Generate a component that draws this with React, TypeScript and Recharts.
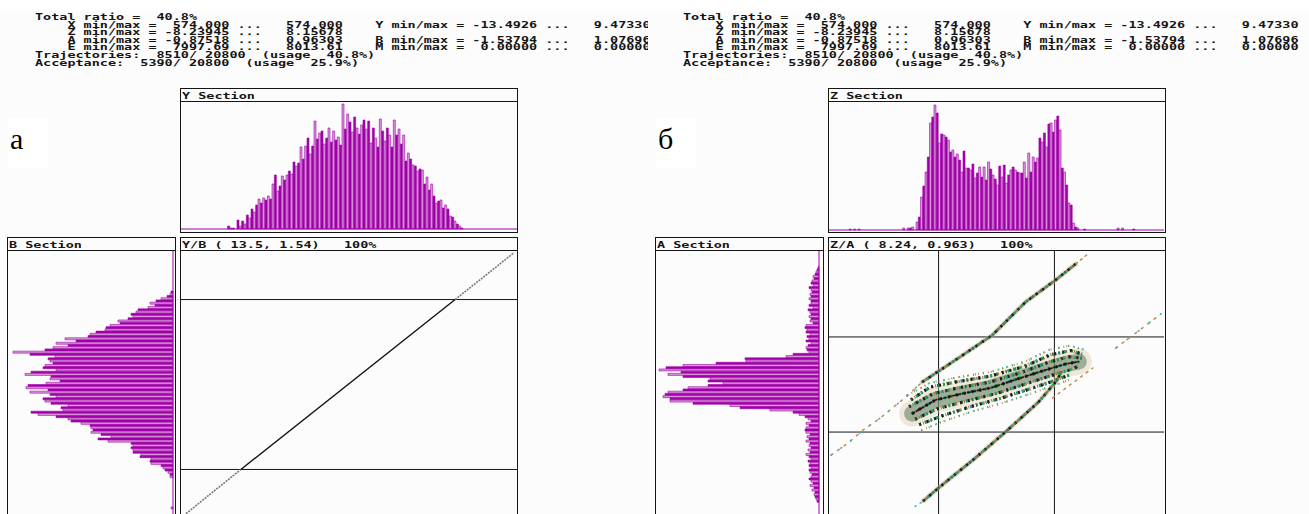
import React from 'react';
import {
  BarChart,
  Bar,
  Cell,
  XAxis,
  YAxis,
  ReferenceLine,
  ComposedChart,
  Line,
} from 'recharts';

// header printout (same text in both figures)
const HEADER_LINES = [
  'Total ratio =  40.8%',
  '    X min/max =  574.000 ...   574.000    Y min/max = -13.4926 ...   9.47330',
  '    Z min/max = -8.23945 ...   8.15678',
  '    A min/max = -0.87518 ...   0.96303    B min/max = -1.53794 ...   1.07696',
  '    E min/max =  7997.69 ...   8013.61    M min/max =  0.00000 ...   0.00000',
  'Trajectories:  8510/ 20800  (usage  40.8%)',
  'Acceptance:  5390/ 20800  (usage  25.9%)',
];

// Y section histogram (figure а), bins 0..143, counts start at bin 20
const Y_BINS = 144;
const Y_FIRST = 20;
const ySection = [
  3, 1, 1, 0, 9, 3, 8, 5, 14, 11,
  20, 17, 24, 30, 26, 31, 29, 33, 30, 45,
  54, 38, 43, 53, 49, 54, 58, 55, 67, 63,
  66, 82, 70, 83, 91, 75, 83, 108, 90, 96,
  98, 85, 91, 101, 87, 98, 89, 92, 84, 125,
  100, 115, 107, 97, 112, 101, 95, 104, 109, 100,
  108, 86, 101, 91, 82, 110, 98, 88, 101, 94,
  82, 109, 94, 100, 85, 94, 68, 76, 70, 64,
  63, 58, 60, 59, 45, 52, 39, 45, 33, 26,
  28, 29, 21, 24, 20, 13, 12, 8, 5, 3,
  1,
];

// Z section histogram (figure б)
const Z_BINS = 150;
const Z_FIRST = 39;
const zSection = [
  8, 13, 33, 44, 58, 73, 107, 113, 125, 117,
  87, 96, 95, 93, 90, 78, 80, 73, 76, 70,
  58, 79, 62, 62, 60, 66, 52, 57, 63, 53,
  63, 50, 68, 61, 55, 51, 45, 64, 53, 65,
  47, 55, 60, 63, 60, 58, 57, 57, 68, 52,
  77, 58, 73, 68, 72, 92, 88, 97, 83, 106,
  107, 98, 110, 114, 100, 62, 58, 45, 27, 25,
  7, 3, 2,
];
const zSparse = [
  { bin: 9, count: 1 }, { bin: 11, count: 1 }, { bin: 13, count: 1 },
  { bin: 33, count: 2 }, { bin: 35, count: 2 }, { bin: 36, count: 2 }, { bin: 37, count: 3 },
  { bin: 114, count: 1 }, { bin: 129, count: 2 }, { bin: 131, count: 2 }, { bin: 136, count: 1 },
];

// B section (figure а, sideways), rows top to bottom
const SIDE_ROWS = 120;
const B_FIRST = 18;
const bSection = [
  2, 3, 6, 12, 17, 23, 18, 25, 35, 37,
  42, 40, 45, 55, 53, 63, 67, 68, 77, 83,
  85, 108, 97, 117, 105, 120, 128, 160, 143, 118,
  125, 123, 120, 128, 130, 117, 142, 148, 122, 123,
  113, 127, 145, 147, 125, 143, 123, 117, 130, 128,
  122, 105, 112, 110, 142, 135, 117, 105, 102, 92,
  83, 82, 80, 82, 72, 62, 75, 65, 42, 40,
  42, 40, 40, 32, 33, 22, 23, 22, 12, 10,
  8, 5, 3, 3,
];
const bSparse = [{ bin: 115, count: 2 }];

// A section (figure б, sideways)
const A_FIRST = 7;
const aSection = [
  1, 2, 3, 4, 6, 5, 7, 8, 6, 10,
  8, 7, 9, 8, 10, 8, 8, 10, 6, 11,
  9, 8, 10, 8, 9, 6, 13, 14, 12, 13,
  9, 12, 10, 13, 8, 11, 13, 12, 10, 26,
  33, 74, 73, 103, 136, 153, 160, 138, 151, 136,
  109, 111, 96, 111, 131, 136, 151, 154, 156, 149,
  149, 126, 89, 79, 49, 26, 20, 14, 11, 8,
  13, 10, 13, 14, 13, 9, 12, 10, 13, 9,
  10, 8, 11, 9, 13, 10, 8, 11, 9, 10,
  8, 10, 9, 7, 8, 10, 8, 6, 9, 5,
  7, 4, 5, 4, 3, 2,
];

// Y/B phase plot
const ybLimits = [-0.98, 0.98];
const ybCore = [{ y: -8.69, b: -0.98 }, { y: 8.53, b: 0.98 }];
const ybTailLow = [{ y: -13.1, b: -1.49 }, { y: -8.69, b: -0.98 }];
const ybTailHigh = [{ y: 8.53, b: 0.98 }, { y: 13.26, b: 1.52 }];

// Z/A phase plot
const zaLimitsZ = [-2.85, 2.85];
const zaLimitsA = [-0.343, 0.343];
const zaUpperTail = [
  { z: -8.14, a: -0.509 }, { z: -7.3, a: -0.422 }, { z: -6.56, a: -0.328 },
  { z: -5.72, a: -0.242 }, { z: -4.64, a: -0.112 }, { z: -3.65, a: 0.018 },
];
const zaUpperBranch = [
  { z: -3.65, a: 0.018 }, { z: -1.87, a: 0.191 }, { z: -0.2, a: 0.357 },
  { z: 1.43, a: 0.595 }, { z: 2.91, a: 0.754 }, { z: 3.9, a: 0.87 },
];
const zaUpperEnd = [{ z: 3.9, a: 0.87 }, { z: 4.49, a: 0.941 }];
const zaLowerBranch = [
  { z: -3.6, a: -0.84 }, { z: -2.86, a: -0.747 }, { z: -1.04, a: -0.53 },
  { z: 0.44, a: -0.343 }, { z: 2.07, a: -0.126 }, { z: 2.91, a: 0.018 }, { z: 3.2, a: 0.09 },
];
const zaLowerEnd = [{ z: -4.0, a: -0.88 }, { z: -3.6, a: -0.84 }];
const zaRightTailInner = [{ z: 2.76, a: -0.097 }, { z: 4.74, a: 0.119 }];
const zaRightTailOuter = [{ z: 5.87, a: 0.263 }, { z: 8.09, a: 0.509 }];
const zaBlobOuterTop = [
  { z: -4.4, a: -0.08 }, { z: -3.3, a: 0.01 }, { z: -2.0, a: 0.05 }, { z: -0.3, a: 0.09 },
  { z: 1.4, a: 0.165 }, { z: 2.6, a: 0.25 }, { z: 3.6, a: 0.28 }, { z: 4.35, a: 0.25 },
];
const zaBlobTop = [
  { z: -4.2, a: -0.11 }, { z: -3.26, a: -0.018 }, { z: -2.02, a: 0.018 }, { z: -0.3, a: 0.061 },
  { z: 1.43, a: 0.133 }, { z: 2.66, a: 0.215 }, { z: 3.65, a: 0.245 }, { z: 4.2, a: 0.22 },
];
const zaBlobUpperMid = [
  { z: -4.3, a: -0.16 }, { z: -3.1, a: -0.065 }, { z: -1.9, a: -0.025 }, { z: -0.3, a: 0.018 },
  { z: 1.3, a: 0.09 }, { z: 2.55, a: 0.16 }, { z: 3.55, a: 0.2 }, { z: 4.2, a: 0.19 },
];
const zaBlobCenter = [
  { z: -4.15, a: -0.21 }, { z: -3.01, a: -0.112 }, { z: -1.78, a: -0.069 }, { z: -0.3, a: -0.025 },
  { z: 1.18, a: 0.047 }, { z: 2.42, a: 0.105 }, { z: 3.4, a: 0.148 }, { z: 4.05, a: 0.165 },
];
const zaBlobLowerMid = [
  { z: -4.0, a: -0.25 }, { z: -2.9, a: -0.175 }, { z: -1.5, a: -0.12 }, { z: 0, a: -0.065 },
  { z: 1.45, a: 0.005 }, { z: 2.7, a: 0.065 }, { z: 3.6, a: 0.105 }, { z: 4.0, a: 0.13 },
];
const zaBlobBottom = [
  { z: -3.8, a: -0.29 }, { z: -2.76, a: -0.23 }, { z: -1.28, a: -0.16 }, { z: 0.2, a: -0.1 },
  { z: 1.68, a: -0.03 }, { z: 2.91, a: 0.03 }, { z: 3.6, a: 0.07 },
];
const zaBlobOuterBottom = [
  { z: -3.7, a: -0.33 }, { z: -2.7, a: -0.27 }, { z: -1.2, a: -0.195 }, { z: 0.25, a: -0.135 },
  { z: 1.7, a: -0.065 }, { z: 2.95, a: 0.0 }, { z: 3.7, a: 0.04 },
];

const DARK = '#a000a8';
const LIGHT = '#d99ad9';
const INK = '#151515';
const PITCH = 8.1;
const DX = 648;

const SPECKLE = [
  { color: '#1f9a3a', dash: '2 4' },
  { color: '#b5702a', dash: '1 3' },
  { color: '#0fa3a3', dash: '1 5' },
  { color: '#a41aa4', dash: '1 7' },
  { color: '#1c1c1c', dash: '2 6' },
  { color: '#2d6a2a', dash: '1 9' },
];

const FRINGE = [
  { color: '#c8884a', dash: '1 4' },
  { color: '#3cb4b4', dash: '1 7' },
  { color: '#5aa85a', dash: '1 9' },
];

function buildBins(total: number, first: number, counts: number[], sparse: { bin: number; count: number }[] = []) {
  const rows = Array.from({ length: total }, (_, i) => ({ bin: i, count: 0 }));
  counts.forEach((c, i) => {
    if (first + i < total) rows[first + i].count = c;
  });
  sparse.forEach((s) => {
    rows[s.bin].count = s.count;
  });
  return rows;
}

function PixelText({ x, y, text }: { x: number; y: number; text: string }) {
  const body = text.trimStart();
  const lead = text.length - body.length;
  return (
    <text
      x={x + lead * PITCH}
      y={y}
      fontFamily="'DejaVu Sans Mono', monospace"
      fontSize={8.4}
      fontWeight="bold"
      fill={INK}
      textLength={body.length * PITCH}
      lengthAdjust="spacingAndGlyphs"
      style={{ whiteSpace: 'pre' }}
    >
      {body}
    </text>
  );
}

function Frame({ x, y, w, h, title }: { x: number; y: number; w: number; h: number; title: string }) {
  return (
    <g>
      <rect x={x + 0.5} y={y + 0.5} width={w} height={h} fill="#fcfcfc" stroke={INK} strokeWidth={1} />
      <line x1={x} x2={x + w + 1} y1={y + 13.5} y2={y + 13.5} stroke={INK} strokeWidth={1} />
      <PixelText x={x + 2} y={y + 10.5} text={title} />
    </g>
  );
}

function UpHist({ rows, left, top, width, height, max }: any) {
  return (
    <div style={{ position: 'absolute', left, top }}>
      <BarChart
        width={width}
        height={height}
        data={rows}
        margin={{ top: 0, right: 0, bottom: 1, left: 0 }}
        barCategoryGap={0}
        barGap={0}
      >
        <XAxis dataKey="bin" hide />
        <YAxis hide domain={[0, max]} />
        <ReferenceLine y={0} stroke={DARK} strokeWidth={1} />
        <Bar dataKey="count" stroke={DARK} strokeWidth={0.6} isAnimationActive={false}>
          {rows.map((r: any, i: number) => (
            <Cell key={i} fill={i % 2 ? LIGHT : DARK} />
          ))}
        </Bar>
      </BarChart>
    </div>
  );
}

function SideHist({ rows, left, top, width, height, max }: any) {
  return (
    <div style={{ position: 'absolute', left, top }}>
      <BarChart
        layout="vertical"
        width={width}
        height={height}
        data={rows}
        margin={{ top: 0, right: 1, bottom: 0, left: 0 }}
        barCategoryGap={0}
        barGap={0}
      >
        <XAxis type="number" hide domain={[0, max]} reversed />
        <YAxis type="category" dataKey="bin" hide />
        <ReferenceLine x={0} stroke={DARK} strokeWidth={1} />
        <Bar dataKey="count" stroke={DARK} strokeWidth={0.6} isAnimationActive={false}>
          {rows.map((r: any, i: number) => (
            <Cell key={i} fill={i % 2 ? LIGHT : DARK} />
          ))}
        </Bar>
      </BarChart>
    </div>
  );
}

function speckle(data: any[], width: number, tag: string, palette = SPECKLE) {
  return palette.map((s, i) => (
    <Line
      key={tag + i}
      data={data}
      dataKey="a"
      stroke={s.color}
      strokeWidth={width}
      strokeDasharray={s.dash}
      dot={false}
      activeDot={false}
      isAnimationActive={false}
    />
  ));
}

function plain(data: any[], stroke: string, width: number, opacity = 1, dash?: string) {
  return (
    <Line
      data={data}
      dataKey="a"
      stroke={stroke}
      strokeOpacity={opacity}
      strokeWidth={width}
      strokeDasharray={dash}
      strokeLinecap="round"
      strokeLinejoin="round"
      dot={false}
      activeDot={false}
      isAnimationActive={false}
    />
  );
}

function YBPlot() {
  return (
    <div style={{ position: 'absolute', left: 181, top: 251 }}>
      <ComposedChart width={336} height={267} margin={{ top: 0, right: 0, bottom: 0, left: 0 }}>
        <XAxis type="number" dataKey="y" domain={[-13.5, 13.5]} hide allowDataOverflow />
        <YAxis type="number" domain={[-1.54, 1.54]} hide allowDataOverflow />
        {ybLimits.map((v) => (
          <ReferenceLine key={v} y={v} stroke={INK} strokeWidth={1} />
        ))}
        <Line data={ybTailLow} dataKey="b" stroke="#7a7a7a" strokeWidth={1.6} strokeDasharray="2 1" dot={false} isAnimationActive={false} />
        <Line data={ybTailHigh} dataKey="b" stroke="#7a7a7a" strokeWidth={1.6} strokeDasharray="2 1" dot={false} isAnimationActive={false} />
        <Line data={ybCore} dataKey="b" stroke="#111" strokeWidth={1.4} dot={false} isAnimationActive={false} />
      </ComposedChart>
    </div>
  );
}

function ZAPlot() {
  return (
    <div style={{ position: 'absolute', left: 181 + DX, top: 251 }}>
      <ComposedChart width={335} height={267} margin={{ top: 0, right: 0, bottom: 0, left: 0 }}>
        <XAxis type="number" dataKey="z" domain={[-8.24, 8.24]} hide allowDataOverflow />
        <YAxis type="number" domain={[-0.963, 0.963]} hide allowDataOverflow />
        {zaLimitsZ.map((v) => (
          <ReferenceLine key={'z' + v} x={v} stroke={INK} strokeWidth={1} />
        ))}
        {zaLimitsA.map((v) => (
          <ReferenceLine key={'a' + v} y={v} stroke={INK} strokeWidth={1} />
        ))}
        {plain(zaBlobCenter, '#dcc7a4', 26, 0.4)}
        {plain(zaBlobCenter, '#5d7d63', 16, 0.55)}
        {speckle(zaBlobOuterTop, 2, 'ot', FRINGE)}
        {speckle(zaBlobOuterBottom, 2, 'ob', FRINGE)}
        {speckle(zaBlobTop, 3, 'bt')}
        {speckle(zaBlobUpperMid, 3, 'bu')}
        {speckle(zaBlobCenter, 3, 'bc')}
        {speckle(zaBlobLowerMid, 3, 'bl')}
        {speckle(zaBlobBottom, 3, 'bb')}
        {plain(zaUpperBranch, '#d0b088', 5, 0.4)}
        {plain(zaLowerBranch, '#d0b088', 5, 0.4)}
        {plain(zaUpperBranch, '#4a6a52', 2.5, 0.7)}
        {plain(zaLowerBranch, '#4a6a52', 2.5, 0.7)}
        {speckle(zaUpperBranch, 2.5, 'ub')}
        {speckle(zaLowerBranch, 2.5, 'lb')}
        {plain(zaBlobCenter, '#111', 1.5, 1, '3 2')}
        {plain(zaUpperEnd, '#c08a50', 1.5, 1, '2 4')}
        {plain(zaLowerEnd, '#40b0b0', 1.5, 1, '1 5')}
        {plain(zaUpperTail, '#c08a50', 1.5, 1, '2 6')}
        {plain(zaUpperTail, '#40b0b0', 1.5, 1, '1 11')}
        {plain(zaRightTailInner, '#c08a50', 1.5, 1, '2 5')}
        {plain(zaRightTailOuter, '#c08a50', 1.5, 1, '2 6')}
        {plain(zaRightTailOuter, '#40b0b0', 1.5, 1, '1 13')}
      </ComposedChart>
    </div>
  );
}

function Figure({ dx, side, top, label }: { dx: number; side: string; top: string; label: string }) {
  return (
    <g>
      <rect x={dx + 8} y={118} width={40} height={50} fill="#ffffff" />
      <text x={dx + 10} y={149} fontFamily="'Liberation Serif', serif" fontSize={30} fill="#000">
        {label}
      </text>
      <Frame x={dx + 180} y={88} w={337} h={144} title={`${top} Section`} />
      <Frame x={dx + 7} y={237} w={168} h={300} title={`${side} Section`} />
      <Frame
        x={dx + 180}
        y={237}
        w={337}
        h={300}
        title={top === 'Y' ? 'Y/B ( 13.5, 1.54)   100%' : 'Z/A ( 8.24, 0.963)   100%'}
      />
    </g>
  );
}

export default function App() {
  const yRows = buildBins(Y_BINS, Y_FIRST, ySection);
  const zRows = buildBins(Z_BINS, Z_FIRST, zSection, zSparse);
  const bRows = buildBins(SIDE_ROWS, B_FIRST, bSection, bSparse);
  const aRows = buildBins(SIDE_ROWS, A_FIRST, aSection);

  return (
    <div
      style={{
        position: 'absolute',
        left: 0,
        top: 0,
        width: 1309,
        height: 514,
        overflow: 'hidden',
        background: '#fcfcfc',
      }}
    >
      <svg width={1309} height={514} style={{ position: 'absolute', left: 0, top: 0 }}>
        <rect x={0} y={0} width={1309} height={11} fill="#ffffff" />
        <svg x={0} y={0} width={DX} height={80} overflow="hidden">
          {HEADER_LINES.map((t, i) => (
            <PixelText key={i} x={35} y={20 + i * 7.6} text={t} />
          ))}
        </svg>
        {HEADER_LINES.map((t, i) => (
          <PixelText key={'r' + i} x={35 + DX} y={20 + i * 7.6} text={t} />
        ))}
        <Figure dx={0} side="B" top="Y" label="а" />
        <Figure dx={DX} side="A" top="Z" label="б" />
      </svg>

      <UpHist rows={yRows} left={181} top={102} width={336} height={128} max={127} />
      <UpHist rows={zRows} left={181 + DX} top={103} width={335} height={128} max={127} />
      <SideHist rows={bRows} left={8} top={251} width={166} height={267} max={165} />
      <SideHist rows={aRows} left={8 + DX} top={251} width={164} height={267} max={163} />
      <YBPlot />
      <ZAPlot />
    </div>
  );
}
